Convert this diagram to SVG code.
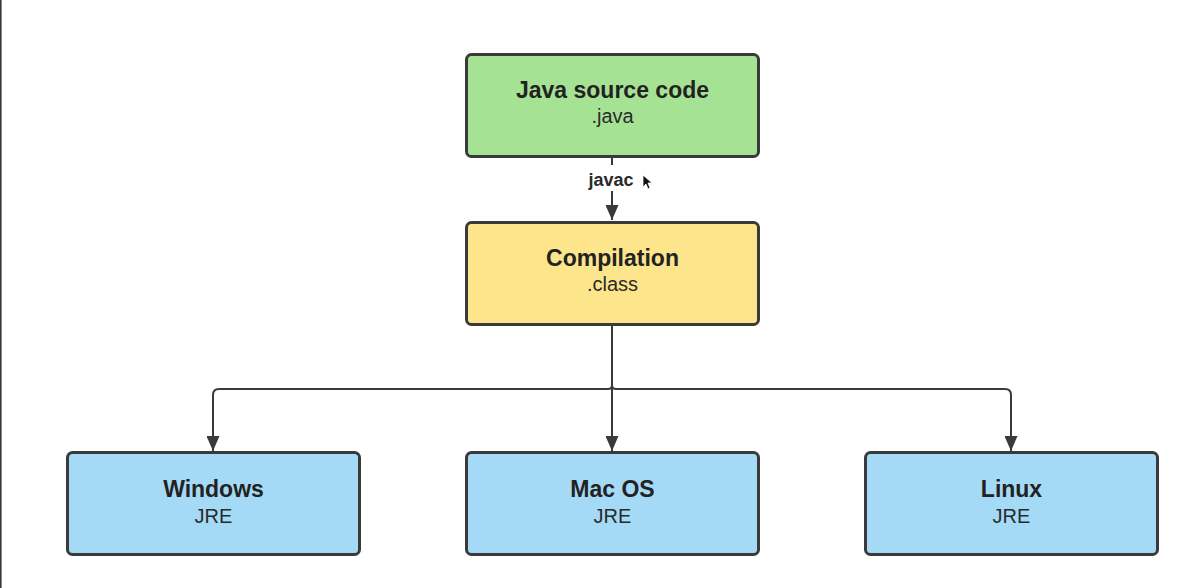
<svg xmlns="http://www.w3.org/2000/svg" width="1200" height="588" viewBox="0 0 1200 588">
<style>
.box{stroke:#3a3a3a;stroke-width:3}
.green{fill:#a5e294}
.yellow{fill:#fde58b}
.blue{fill:#a5daf7}
.title{font-family:"Liberation Sans",Arial,sans-serif;font-weight:bold;font-size:23px;fill:#222;text-anchor:middle}
.sub{font-family:"Liberation Sans",Arial,sans-serif;font-size:20px;fill:#2a2a2a;text-anchor:middle}
.lbl{font-family:"Liberation Sans",Arial,sans-serif;font-weight:bold;font-size:18px;fill:#2a2a2a;text-anchor:middle}
.conn{fill:none;stroke:#3a3a3a;stroke-width:2}
</style>
<defs>
<marker id="arrow" markerUnits="userSpaceOnUse" markerWidth="15" markerHeight="13" refX="15" refY="6.5" orient="auto" viewBox="0 0 15 13">
<path d="M0,0 L15,6.5 L0,13 z" fill="#3a3a3a"/>
</marker>
</defs>
<rect x="0" y="0" width="1200" height="588" fill="#ffffff"/>
<rect x="0" y="0" width="1.6" height="588" fill="#3a3a3a"/>
<g id="connectors">
<path class="conn" d="M612 157 V220" marker-end="url(#arrow)"/>
<rect x="584" y="165" width="58" height="26" fill="#ffffff"/>
<text class="lbl" x="611" y="186">javac</text>
<path class="conn" d="M612 326 V385 Q612 389 608 389 H219 Q213 389 213 395 V451" marker-end="url(#arrow)"/>
<path class="conn" d="M612 326 V385 Q612 389 616 389 H1005 Q1011 389 1011 395 V451" marker-end="url(#arrow)"/>
<path class="conn" d="M612 326 V451" marker-end="url(#arrow)"/>
</g>
<g id="java-source">
<rect class="box green" x="466.5" y="54.5" width="292" height="102" rx="5"/>
<text class="title" x="612.5" y="98">Java source code</text>
<text class="sub" x="612.5" y="123">.java</text>
</g>
<g id="compilation">
<rect class="box yellow" x="466.5" y="222.5" width="292" height="102" rx="5"/>
<text class="title" x="612.5" y="266">Compilation</text>
<text class="sub" x="612.5" y="291">.class</text>
</g>
<g id="windows">
<rect class="box blue" x="67.5" y="452.5" width="292" height="102" rx="5"/>
<text class="title" x="213.5" y="497">Windows</text>
<text class="sub" x="213.5" y="523">JRE</text>
</g>
<g id="macos">
<rect class="box blue" x="466.5" y="452.5" width="292" height="102" rx="5"/>
<text class="title" x="612.5" y="497">Mac OS</text>
<text class="sub" x="612.5" y="523">JRE</text>
</g>
<g id="linux">
<rect class="box blue" x="865.5" y="452.5" width="292" height="102" rx="5"/>
<text class="title" x="1011.5" y="497">Linux</text>
<text class="sub" x="1011.5" y="523">JRE</text>
</g>
<polygon points="643,175 643,187 646,184 648,189 650,188 648,183 652,183" fill="#111" stroke="#fff" stroke-width="0.8"/>
</svg>
